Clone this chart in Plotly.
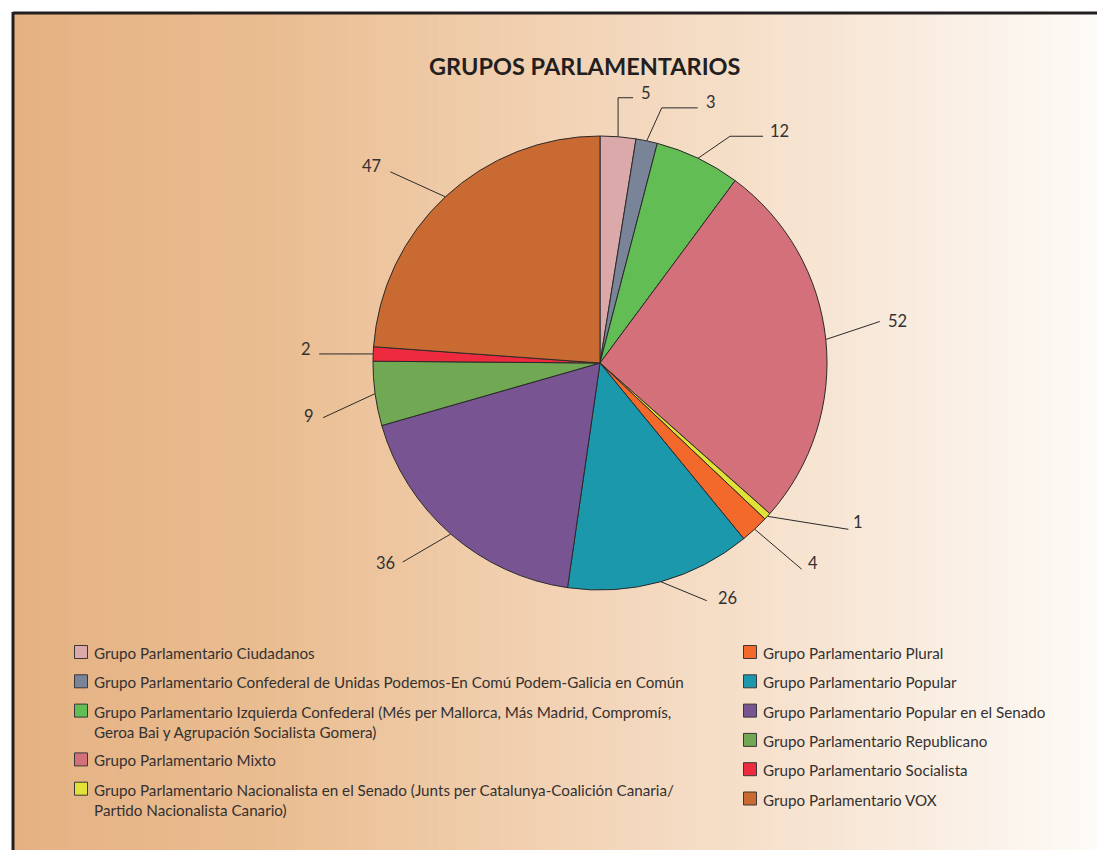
import math
import plotly.graph_objects as go

# ---------------- data ----------------
groups = [
    "Grupo Parlamentario Ciudadanos",
    "Grupo Parlamentario Confederal de Unidas Podemos-En Comú Podem-Galicia en Común",
    "Grupo Parlamentario Izquierda Confederal (Més per Mallorca, Más Madrid, Compromís,<br>Geroa Bai y Agrupación Socialista Gomera)",
    "Grupo Parlamentario Mixto",
    "Grupo Parlamentario Nacionalista en el Senado (Junts per Catalunya-Coalición Canaria/<br>Partido Nacionalista Canario)",
    "Grupo Parlamentario Plural",
    "Grupo Parlamentario Popular",
    "Grupo Parlamentario Popular en el Senado",
    "Grupo Parlamentario Republicano",
    "Grupo Parlamentario Socialista",
    "Grupo Parlamentario VOX",
]
seats = [5, 3, 12, 52, 1, 4, 26, 36, 9, 2, 47]
colors = ["#dca9ab", "#7a8499", "#62bd55", "#d4707a", "#e2e236", "#f2692b",
          "#1c98ad", "#785592", "#70a853", "#ee2a3f", "#c96a33"]
legend_column = [0, 0, 0, 0, 0, 1, 1, 1, 1, 1, 1]
title_text = "GRUPOS PARLAMENTARIOS"

# ---------------- layout / style constants ----------------
W, H = 1097, 850
CX, CY, R = 600, 363, 227
FONT = "Lato"
TXT = "#333132"
LINE = "#2b2a2a"

# leader line geometry (relative to the slice's edge point), label offsets (relative to line end)
leader_elbow = [(0, -39), (15, -33), (32, -22), (54, -18), (81, 13), (47, 40),
                (46, 19), (-48, 28), (-52, 24), (-54, 0), (-55, -25)]
leader_tail = [15, 36, 33, 0, 0, 0, 0, 0, 0, 0, 0]
label_offset = [(6, -5), (6, -6), (5, -5), (6, -1), (3, -7), (4, -6),
                (9, -3), (-6, 1), (-7, -2), (-6, -5), (-7, -6)]

fig = go.Figure()

# ---------------- background gradient ----------------
stops = [(0.0, (229, 177, 130)), (0.25, (234, 190, 146)), (0.5, (242, 210, 180)),
         (0.75, (247, 229, 211)), (1.0, (253, 251, 248))]


def grad(t):
    for (t0, c0), (t1, c1) in zip(stops[:-1], stops[1:]):
        if t <= t1:
            f = (t - t0) / (t1 - t0)
            return "rgb(%d,%d,%d)" % tuple(round(a + (b - a) * f) for a, b in zip(c0, c1))
    return "rgb(%d,%d,%d)" % stops[-1][1]


shapes = []
x_start = 14
n_strips = 120
sw = (W - x_start) / n_strips
for i in range(n_strips):
    shapes.append(dict(type="rect", xref="x", yref="y", layer="below",
                       x0=x_start + i * sw, x1=x_start + (i + 1) * sw + 0.6,
                       y0=14, y1=H, line=dict(width=0),
                       fillcolor=grad((i + 0.5) / n_strips)))
# frame lines (top and left)
shapes.append(dict(type="line", xref="x", yref="y", x0=13, x1=W, y0=13, y1=13,
                   line=dict(color="#231f20", width=3), layer="below"))
shapes.append(dict(type="line", xref="x", yref="y", x0=13, x1=13, y0=12, y1=H,
                   line=dict(color="#231f20", width=3), layer="below"))

# ---------------- pie ----------------
fig.add_trace(go.Pie(
    labels=groups, values=seats, sort=False, direction="clockwise", rotation=0,
    marker=dict(colors=colors, line=dict(color=LINE, width=1)),
    textinfo="none", hoverinfo="label+value", showlegend=False,
    domain=dict(x=[(CX - R) / W, (CX + R) / W], y=[1 - (CY + R) / H, 1 - (CY - R) / H]),
))

# ---------------- leader lines + value labels ----------------
total = sum(seats)
lx, ly = [], []
annotations = []
cum = 0
for i, v in enumerate(seats):
    mid = (cum + v / 2) / total * 2 * math.pi
    cum += v
    ex, ey = CX + R * math.sin(mid), CY - R * math.cos(mid)
    bx, by = ex + leader_elbow[i][0], ey + leader_elbow[i][1]
    tx, ty = bx + leader_tail[i], by
    lx += [ex, bx, tx, None]
    ly += [ey, by, ty, None]
    dx, dy = label_offset[i]
    annotations.append(dict(
        x=tx + dx, y=ty + dy, xref="x", yref="y", text=str(v), showarrow=False,
        xanchor="left" if dx > 0 else "right", yanchor="middle",
        font=dict(family=FONT, size=16.5, color=TXT)))

fig.add_trace(go.Scatter(x=lx, y=ly, mode="lines", line=dict(color=LINE, width=1),
                         hoverinfo="skip", showlegend=False))

# ---------------- legend (two columns) ----------------
col_sq_x = [81, 750]
col_txt_x = [92, 761]
row_top = 652
row_pitch = 29.3
extra_line = 19.5
sq_x, sq_y = [], []
ycur = [row_top, row_top]
for i, name in enumerate(groups):
    c = legend_column[i]
    nlines = name.count("<br>") + 1
    y = ycur[c]
    sq_x.append(col_sq_x[c])
    sq_y.append(y)
    annotations.append(dict(
        x=col_txt_x[c], y=y - 10, xref="x", yref="y", text=name, showarrow=False,
        xanchor="left", yanchor="top", align="left",
        font=dict(family=FONT, size=15.2, color=TXT)))
    ycur[c] = y + row_pitch + extra_line * (nlines - 1)

fig.add_trace(go.Scatter(x=sq_x, y=sq_y, mode="markers",
                         marker=dict(symbol="square", size=13, color=colors,
                                     line=dict(color="#3a3838", width=1)),
                         hoverinfo="skip", showlegend=False))

# ---------------- title ----------------
annotations.append(dict(x=585, y=66, xref="x", yref="y", text="<b>%s</b>" % title_text,
                        showarrow=False, xanchor="center", yanchor="middle",
                        font=dict(family=FONT, size=23.5, color="#231f20")))

fig.update_layout(
    width=W, height=H, margin=dict(l=0, r=0, t=0, b=0),
    paper_bgcolor="white", plot_bgcolor="rgba(0,0,0,0)",
    xaxis=dict(range=[0, W], visible=False, fixedrange=True, domain=[0, 1]),
    yaxis=dict(range=[H, 0], visible=False, fixedrange=True, domain=[0, 1]),
    shapes=shapes, annotations=annotations, showlegend=False,
)

fig.write_html("out.html", config={"displayModeBar": False},
               post_script="document.body.style.margin='0px';document.body.style.overflow='hidden';")
